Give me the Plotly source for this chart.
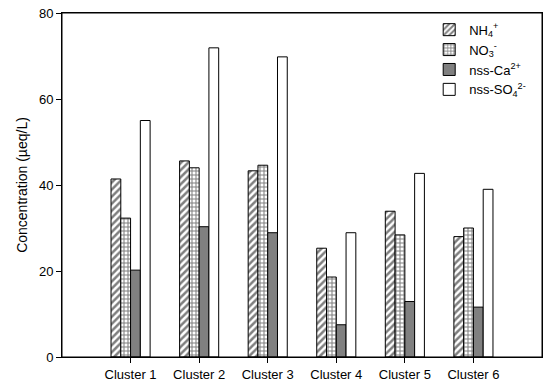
import plotly.graph_objects as go

clusters = ["Cluster 1", "Cluster 2", "Cluster 3", "Cluster 4", "Cluster 5", "Cluster 6"]
nh4 = [41.4, 45.6, 43.3, 25.3, 33.9, 28.0]
no3 = [32.3, 44.0, 44.6, 18.6, 28.4, 30.0]
ca = [20.2, 30.3, 28.9, 7.5, 12.9, 11.6]
so4 = [55.0, 71.9, 69.8, 28.9, 42.7, 39.0]
y_ticks = [0, 20, 40, 60, 80]

FONT = "Liberation Sans, Arial, sans-serif"
line = dict(color="black", width=1)

fig = go.Figure()
fig.add_trace(go.Bar(
    x=clusters, y=nh4, name="NH<sub>4</sub><sup>+</sup>",
    marker=dict(color="white", line=line,
                pattern=dict(shape="/", fgcolor="black", bgcolor="white", size=5, solidity=0.5)),
))
fig.add_trace(go.Bar(
    x=clusters, y=no3, name="NO<sub>3</sub><sup>-</sup>",
    marker=dict(color="white", line=line,
                pattern=dict(shape="+", fgcolor="black", bgcolor="white", size=4, solidity=0.45)),
))
fig.add_trace(go.Bar(
    x=clusters, y=ca, name="nss-Ca<sup>2+</sup>",
    marker=dict(color="#808080", line=line),
))
fig.add_trace(go.Bar(
    x=clusters, y=so4, name="nss-SO<sub>4</sub><sup>2-</sup>",
    marker=dict(color="white", line=line),
))

fig.update_layout(
    width=550, height=390,
    margin=dict(l=62, r=8, t=13, b=33, autoexpand=False),
    paper_bgcolor="white", plot_bgcolor="white",
    barmode="group", bargap=0.43, bargroupgap=0,
    font=dict(family=FONT, size=13, color="black"),
    showlegend=True,
    legend=dict(x=0.765, y=0.995, xanchor="left", yanchor="top",
                bgcolor="rgba(0,0,0,0)", borderwidth=0,
                font=dict(family=FONT, size=13, color="black"),
                itemwidth=30, tracegroupgap=0),
    xaxis=dict(range=[-1, 6], showline=True, linecolor="black", linewidth=1, mirror=True,
               ticks="outside", ticklen=5, tickcolor="black", showgrid=False,
               tickfont=dict(size=13), automargin=False),
    yaxis=dict(range=[0, 80], tickvals=y_ticks, showline=True, linecolor="black", linewidth=1,
               mirror=True, ticks="outside", ticklen=5, tickcolor="black", showgrid=False,
               zeroline=False, tickfont=dict(size=13), automargin=False,
               title=dict(text="Concentration (µeq/L)", font=dict(size=14), standoff=8)),
    shapes=[dict(type="rect", xref="paper", yref="paper", x0=0, x1=1, y0=0, y1=1,
                 line=dict(color="black", width=1), fillcolor="rgba(0,0,0,0)", layer="above")],
)

fig.write_html("out.html", config={"displayModeBar": False},
               post_script="document.body.style.margin='0';document.body.style.overflow='hidden';")
